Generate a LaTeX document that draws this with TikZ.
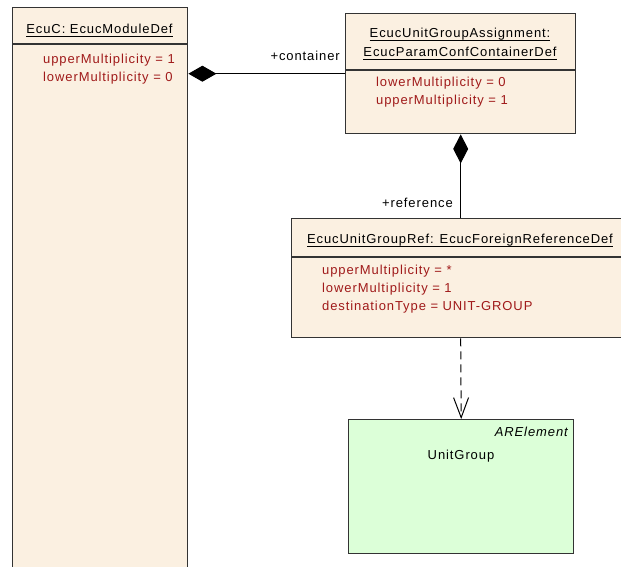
\documentclass[tikz,border=0pt]{standalone}
\usepackage{fontspec}
\setmainfont{Liberation Sans}[LetterSpace=7]
\usetikzlibrary{positioning, arrows.meta, shapes.geometric}

\definecolor{classfill}{RGB}{251,240,225}
\definecolor{elemfill}{RGB}{220,255,216}
\definecolor{attrred}{RGB}{160,26,26}

% underlined class name, rule at a fixed distance below the baseline
\newcommand{\umlname}[1]{\setbox0\hbox{#1}\rlap{\rule[-3pt]{\wd0}{0.8pt}}\box0}

\begin{document}
\begin{tikzpicture}[
            x=1pt, y=-1pt,
            font=\fontsize{13}{18}\selectfont,
            classbox/.style={draw=black!80, line width=1.4pt, fill=classfill, rectangle, anchor=north west, inner sep=0pt},
            elembox/.style={classbox, fill=elemfill},
            boxline/.style={draw=black!80, line width=1.2pt},
            title/.style={anchor=base, inner sep=0pt},
            attr/.style={anchor=base west, inner sep=0pt, text=attrred},
            role/.style={anchor=base east, inner sep=0pt},
            link/.style={draw=black, line width=1pt},
        ]

        \useasboundingbox (0,0) rectangle (621,567);
        \clip (0,0) rectangle (621,567);

        % Draw the class boxes
        \node[classbox, minimum width=175pt, minimum height=620pt] (ecuc) at (12,7) {};
        \node[classbox, minimum width=230pt, minimum height=120pt] (cont) at (345,13) {};
        \node[classbox, minimum width=338pt, minimum height=119pt] (ref) at (291,218) {};
        \node[elembox, minimum width=225pt, minimum height=134pt] (unit) at (348,419) {};

        % Draw the compartment lines
        \draw[boxline] (ecuc.west |- 0,44) -- (ecuc.east |- 0,44);
        \draw[boxline] (cont.west |- 0,70) -- (cont.east |- 0,70);
        \draw[boxline] (ref.west |- 0,257) -- (ref.east |- 0,257);

        % Class names
        \node[title] (ecuc-name) at (99.5,33.5) {\umlname{EcuC: EcucModuleDef}};
        \node[title] (cont-name1) at (460,38) {\umlname{EcucUnitGroupAssignment:}};
        \node[title] (cont-name2) at (460,57) {\umlname{EcucParamConfContainerDef}};
        \node[title] (ref-name) at (460,243.5) {\umlname{EcucUnitGroupRef: EcucForeignReferenceDef}};
        \node[anchor=base east, inner sep=0pt] (unit-stereo) at (568,436) {\itshape ARElement};
        \node[title] (unit-name) at (461,459.5) {UnitGroup};

        % Attributes
        \foreach \a [count=\i] in {upperMultiplicity = 1, lowerMultiplicity = 0}
        \node[attr] (ecuc-a\i) at (43,{63.5+18*(\i-1)}) {\a};
        \foreach \a [count=\i] in {lowerMultiplicity = 0, upperMultiplicity = 1}
        \node[attr] (cont-a\i) at (376,{86.5+18*(\i-1)}) {\a};
        \foreach \a [count=\i] in {upperMultiplicity = *, lowerMultiplicity = 1, destinationType = UNIT-GROUP}
        \node[attr] (ref-a\i) at (322,{274+18.3*(\i-1)}) {\a};

        % Role names
        \node[role] (lbl-cont) at (340,61) {+container};
        \node[role] (lbl-ref) at (453,207.5) {+reference};

        % Compositions and the dependency
        \draw[link, {Diamond[length=28pt, width=16pt]}-] (ecuc.east |- cont.west) -- (cont.west);
        \draw[link, {Diamond[length=29pt, width=15pt]}-] (cont.south) -- (ref.north);
        \draw[link, dash pattern=on 8pt off 5pt, -{Straight Barb[length=20pt, width=15pt]}] (ref.south) -- (unit.north);
    \end{tikzpicture}
\end{document}
